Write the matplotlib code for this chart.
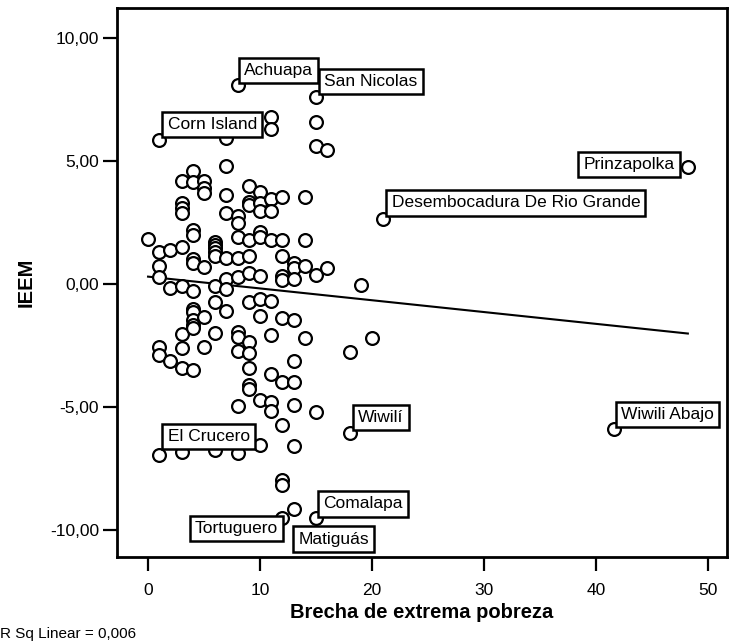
import matplotlib
matplotlib.use("Agg")
import matplotlib.pyplot as plt
import numpy as np

plt.rcParams['font.family'] = ['Liberation Sans', 'DejaVu Sans']

# brecha de extrema pobreza (x) and IEEM (y), one pair per municipio
brecha = [
    0,
    1, 1, 1, 1, 1, 1, 1,
    2, 2, 2,
    3, 3, 3, 3, 3, 3, 3, 3, 3, 3,
    4, 4, 4, 4, 4, 4, 4, 4, 4, 4, 4, 4, 4,
    5, 5, 5, 5, 5, 5,
    6, 6, 6, 6, 6, 6, 6, 6, 6,
    7, 7, 7, 7, 7, 7, 7, 7,
    8, 8, 8, 8, 8, 8, 8, 8, 8, 8, 8,
    9, 9, 9, 9, 9, 9, 9, 9, 9, 9, 9, 9,
    10, 10, 10, 10, 10, 10, 10, 10, 10, 10,
    11, 11, 11, 11, 11, 11, 11, 11, 11, 11,
    12, 12, 12, 12, 12, 12, 12, 12, 12, 12, 12,
    13, 13, 13, 13, 13, 13, 13, 13, 13,
    14, 14, 14, 14,
    15, 15, 15, 15, 15, 15,
    16, 16,
    18, 18,
    19, 20, 21, 41.6, 48.2,
]
ieem = [
    1.85,
    5.85, 1.3, 0.75, 0.3, -2.55, -2.9, -6.95,
    1.4, -0.15, -3.15,
    4.2, 3.3, 3.1, 2.9, 1.5, -0.08, -2.05, -2.6, -3.4, -6.85,
    4.6, 4.15, 2.2, 2.0, 1.0, 0.85, -0.3, -1.0, -1.12, -1.45, -1.67, -1.8, -3.5,
    4.2, 3.9, 3.7, 0.7, -1.35, -2.55,
    1.7, 1.6, 1.45, 1.3, 1.15, -0.1, -0.72, -2.0, -6.75,
    5.95, 4.8, 3.6, 2.9, 1.05, 0.2, -0.22, -1.1,
    8.1, 2.75, 2.5, 1.9, 1.05, 0.28, -1.95, -2.15, -2.72, -4.97, -6.88,
    4.0, 3.35, 3.2, 1.8, 1.12, 0.45, -0.72, -2.35, -2.82, -3.42, -4.1, -4.25,
    3.75, 3.3, 2.95, 2.1, 1.9, 0.32, -0.6, -1.3, -4.7, -6.55,
    6.8, 6.3, 3.45, 2.95, 1.8, -0.7, -2.08, -3.66, -4.8, -5.18,
    3.55, 1.8, 1.15, 0.32, 0.18, -1.4, -3.98, -5.75, -7.95, -8.17, -9.53,
    0.85, 0.67, 0.2, -1.45, -3.12, -3.98, -4.93, -6.59, -9.16,
    3.55, 1.8, 0.74, -2.18,
    7.6, 6.6, 5.6, 0.37, -5.2, -9.53,
    5.45, 0.65,
    -2.75, -6.06,
    -0.05, -2.18, 2.65, -5.9, 4.75,
]

# linear fit as printed by SPSS
intercepto = 0.30
pendiente = -0.048
r2_texto = "R Sq Linear = 0,006"

# labelled municipios: name, x, y, offset (points), ha, va
etiquetas = [
    ("Achuapa", 8, 8.1, (4.5, 5), "left", "bottom"),
    ("San Nicolas", 15, 7.6, (6, 6), "left", "bottom"),
    ("Corn Island", 1, 5.85, (6, 6), "left", "bottom"),
    ("Prinzapolka", 48.2, 4.75, (-9.5, 2), "right", "center"),
    ("Desembocadura De Rio Grande", 21, 2.65, (6, 6), "left", "bottom"),
    ("Wiwilí", 18, -6.06, (6, 6), "left", "bottom"),
    ("Wiwili Abajo", 41.6, -5.9, (5, 5), "left", "bottom"),
    ("El Crucero", 1, -6.95, (6, 8), "left", "bottom"),
    ("Comalapa", 15, -9.53, (5, 5), "left", "bottom"),
    ("Tortuguero", 12, -9.53, (-3, -2), "right", "top"),
    ("Matiguás", 13, -9.16, (3.5, -16), "left", "top"),
]

fig = plt.figure(figsize=(7.37, 6.43), dpi=100)
ax = fig.add_axes([0.1588, 0.1337, 0.8277, 0.8538])

x = np.array(brecha)
y = np.array(ieem)

ax.scatter(x, y, s=85, facecolors='white', edgecolors='black', linewidths=1.6, zorder=3)

xs = np.array([x.min(), x.max()])
ax.plot(xs, intercepto + pendiente * xs, color='black', lw=1.5, zorder=2)

for nombre, px, py, off, ha, va in etiquetas:
    ax.annotate(nombre, (px, py), xytext=off, textcoords='offset points',
                ha=ha, va=va, fontsize=12.5, zorder=5,
                bbox=dict(boxstyle='square,pad=0.3', facecolor='white',
                          edgecolor='black', linewidth=1.8))

ax.set_xlim(-2.77, 51.7)
ax.set_ylim(-11.1, 11.22)
ax.set_xticks([0, 10, 20, 30, 40, 50])
ax.set_yticks([-10, -5, 0, 5, 10])
ax.set_yticklabels([f"{v:.2f}".replace('.', ',') for v in [-10, -5, 0, 5, 10]])
ax.tick_params(axis='both', direction='out', length=10, width=1.6, labelsize=12.5)
ax.tick_params(axis='x', pad=9)
ax.tick_params(axis='y', pad=3)

for s in ax.spines.values():
    s.set_linewidth(2)
    s.set_color('black')

ax.set_xlabel("Brecha de extrema pobreza", fontsize=14.5, fontweight='bold', labelpad=3)
ax.set_ylabel("IEEM", fontsize=14.5, fontweight='bold', labelpad=10)

fig.text(0.0, 0.003, r2_texto, fontsize=11, ha='left', va='bottom')

fig.savefig("out.png", dpi=100)
